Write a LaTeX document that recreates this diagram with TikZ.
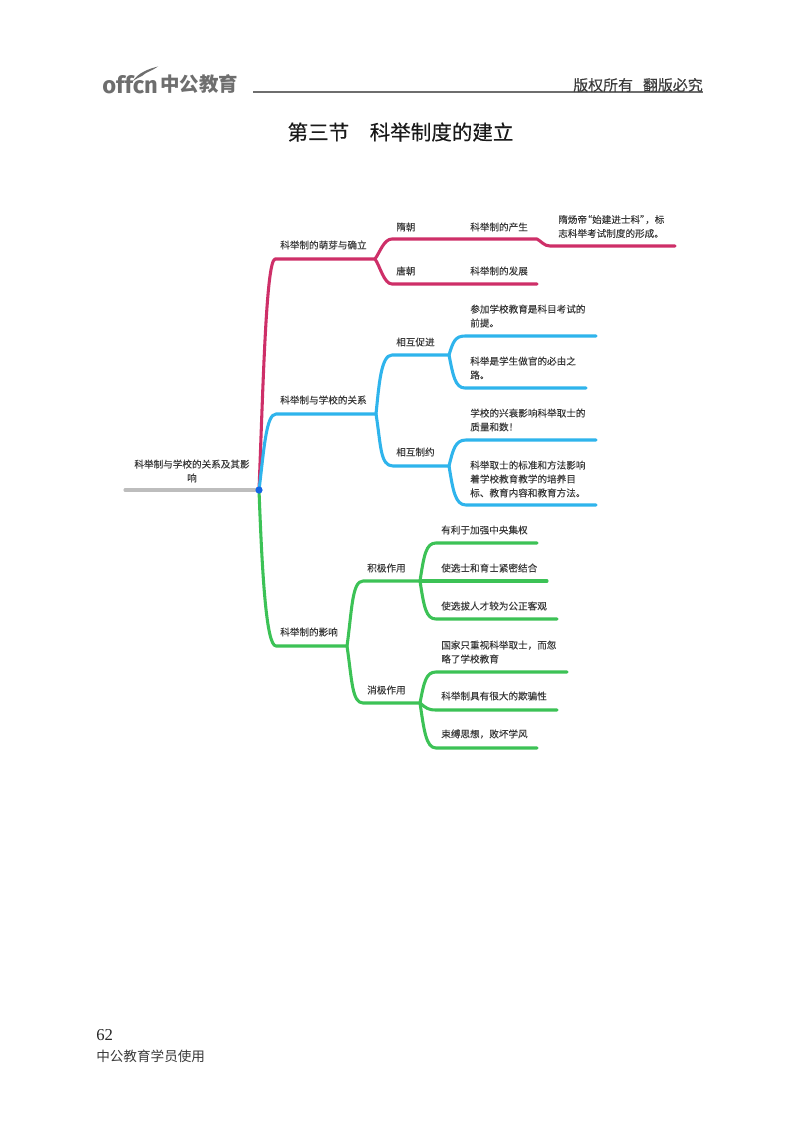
\documentclass[tikz,border=0pt]{standalone}
\usepackage{fontspec}
\setmainfont{Liberation Serif}
\newfontfamily\cjk{Noto Sans CJK SC}
\newfontfamily\cjkm[FakeBold=0.05]{Noto Sans CJK SC}
\newfontfamily\cjkh[FakeBold=0.25]{Noto Sans CJK SC}
\newfontfamily\logofont{Fira Sans}
\definecolor{txt}{HTML}{3A3A3A}
\definecolor{crim}{HTML}{CE2F68}
\definecolor{sky}{HTML}{2FB4EC}
\definecolor{grn}{HTML}{3CC256}
\definecolor{rootg}{HTML}{BDBDBD}
\definecolor{dotb}{HTML}{1565E6}
\definecolor{hdr}{HTML}{6E6E6E}
\tikzset{
  lab/.style={anchor=west,inner sep=0pt,align=left,text=txt,font=\cjkm\fontsize{7.2}{10.4}\selectfont},
  branch/.style={line width=2.3pt,line cap=round,line join=round},
  redb/.style={branch,draw=crim},
  blueb/.style={branch,draw=sky},
  greenb/.style={branch,draw=grn},
}
\begin{document}
\begin{tikzpicture}[x=0.75pt,y=-0.75pt]
\useasboundingbox (0,0) rectangle (800,1124);
\fill[white] (0,0) rectangle (800,1124);

% header
\node[anchor=west,inner sep=0pt,text=hdr,font=\logofont\bfseries\fontsize{17.8}{20}\selectfont] (logo) at (102,85) {offcn};
\node[anchor=west,inner sep=0pt,text=hdr,font=\cjk\bfseries\fontsize{14.6}{16}\selectfont] (logocn) at (160,84) {中公教育};
\fill[hdr] (133,81) .. controls (138,73) and (148,69) .. (158,66.5) .. controls (152,71) and (146,72) .. (142,76) .. controls (139,77) and (136,79) .. (133,81) -- cycle;
\coordinate (hl) at (253,92);
\coordinate (hr) at (703,92);
\draw[hdr,line width=0.9pt] (hl) .. controls (300,92) and (650,92) .. (hr);
\node[anchor=east,inner sep=0pt,text=txt,font=\cjkm\fontsize{11.2}{13}\selectfont] (rights) at (703,85) {版权所有\hspace{7.5pt}翻版必究};
\node[anchor=center,inner sep=0pt,text=black!90,font=\cjkh\fontsize{15.4}{18}\selectfont] (title) at (400.5,132) {第三节\hspace{1em}科举制度的建立};

% coordinates
\coordinate (root) at (259,490);
\coordinate (rootL) at (125,490);
\coordinate (a) at (275,259);   \coordinate (aj) at (375,259);
\coordinate (a1) at (392,239);  \coordinate (a1e) at (537,239);
\coordinate (a1x) at (550,246); \coordinate (a1xe) at (675,246);
\coordinate (a2) at (392,284);  \coordinate (a2e) at (537,284);
\coordinate (b) at (276,414);   \coordinate (bj) at (376,414);
\coordinate (b1) at (392,355);  \coordinate (b1j) at (449,355);
\coordinate (b11) at (465,336); \coordinate (b11e) at (596,336);
\coordinate (b12) at (465,388); \coordinate (b12e) at (586,388);
\coordinate (b2) at (393,466);  \coordinate (b2j) at (449,466);
\coordinate (b21) at (466,440); \coordinate (b21e) at (596,440);
\coordinate (b22) at (466,505); \coordinate (b22e) at (596,505);
\coordinate (c) at (276,646);   \coordinate (cj) at (347,646);
\coordinate (c1) at (363,581);  \coordinate (c1j) at (420,581);
\coordinate (c11) at (436,543); \coordinate (c11e) at (537,543);
\coordinate (c12e) at (547,581);
\coordinate (c13) at (436,619); \coordinate (c13e) at (557,619);
\coordinate (c2) at (363,703);  \coordinate (c2j) at (420,703);
\coordinate (c21) at (436,672); \coordinate (c21e) at (567,672);
\coordinate (c22) at (436,710); \coordinate (c22e) at (557,710);
\coordinate (c23) at (436,748); \coordinate (c23e) at (537,748);

% root bar
\draw[branch,draw=rootg] (rootL) .. controls (170,490) and (215,490) .. (root);

% red
\draw[redb] (root) .. controls (263,390) and (266,261) .. (a) -- (aj);
\draw[redb] (aj) .. controls (380,252) and (384,239) .. (a1) -- (a1e) .. controls (541,241) and (544,246) .. (a1x) -- (a1xe);
\draw[redb] (aj) .. controls (380,266) and (384,284) .. (a2) -- (a2e);

% green
\draw[greenb] (root) .. controls (262,570) and (266,646) .. (c) -- (cj);
\draw[greenb] (cj) .. controls (352,610) and (352,581) .. (c1) -- (c1j);
\draw[greenb] (cj) .. controls (352,680) and (352,703) .. (c2) -- (c2j);
\draw[greenb] (c1j) .. controls (424,555) and (426,543) .. (c11) -- (c11e);
\draw[greenb] (c1j) .. controls (450,581) and (500,581) .. (c12e);
\draw[greenb] (c1j) .. controls (424,607) and (426,619) .. (c13) -- (c13e);
\draw[greenb] (c2j) .. controls (424,682) and (426,672) .. (c21) -- (c21e);
\draw[greenb] (c2j) .. controls (426,708) and (428,710) .. (c22) -- (c22e);
\draw[greenb] (c2j) .. controls (424,730) and (426,748) .. (c23) -- (c23e);

% blue
\draw[blueb] (root) .. controls (264,450) and (266,414) .. (b) -- (bj);
\draw[blueb] (bj) .. controls (379,385) and (381,355) .. (b1) -- (b1j);
\draw[blueb] (bj) .. controls (381,445) and (380,466) .. (b2) -- (b2j);
\draw[blueb] (b1j) .. controls (453,342) and (455,336) .. (b11) -- (b11e);
\draw[blueb] (b1j) .. controls (453,375) and (455,388) .. (b12) -- (b12e);
\draw[blueb] (b2j) .. controls (453,450) and (455,440) .. (b21) -- (b21e);
\draw[blueb] (b2j) .. controls (453,490) and (455,505) .. (b22) -- (b22e);

\fill[dotb] (root) circle (3.6);

% labels
\node[lab,anchor=center,align=center] (t0) at (192,471) {科举制与学校的关系及其影\\响};
\node[lab] (ta) at (280,245) {科举制的萌芽与确立};
\node[lab] (ta1) at (396,227) {隋朝};
\node[lab] (ta11) at (470,227) {科举制的产生};
\node[lab] (ta111) at (558,226.5) {隋炀帝\hspace{-3.4pt}“始建进士科”\hspace{-3.4pt}，标\\志科举考试制度的形成。};
\node[lab] (ta2) at (396,271) {唐朝};
\node[lab] (ta21) at (470,271) {科举制的发展};
\node[lab] (tb) at (280,400) {科举制与学校的关系};
\node[lab] (tb1) at (396,342) {相互促进};
\node[lab] (tb11) at (470,316) {参加学校教育是科目考试的\\前提。};
\node[lab] (tb12) at (470,368) {科举是学生做官的必由之\\路。};
\node[lab] (tb2) at (396,452) {相互制约};
\node[lab] (tb21) at (470,420) {学校的兴衰影响科举取士的\\质量和数！};
\node[lab] (tb22) at (470,479) {科举取士的标准和方法影响\\着学校教育教学的培养目\\标、教育内容和教育方法。};
\node[lab] (tc) at (280,632) {科举制的影响};
\node[lab] (tc1) at (367,568) {积极作用};
\node[lab] (tc11) at (441,530) {有利于加强中央集权};
\node[lab] (tc12) at (441,568) {使选士和育士紧密结合};
\node[lab] (tc13) at (441,606) {使选拔人才较为公正客观};
\node[lab] (tc2) at (367,690) {消极作用};
\node[lab] (tc21) at (441,652) {国家只重视科举取士，而忽\\略了学校教育};
\node[lab] (tc22) at (441,696) {科举制具有很大的欺骗性};
\node[lab] (tc23) at (441,734) {束缚思想，败坏学风};

% footer
\node[anchor=west,inner sep=0pt,text=black!85,font=\fontsize{12.5}{14}\selectfont] (page) at (96,1035) {62};
\node[anchor=west,inner sep=0pt,text=txt,font=\cjk\fontsize{10.2}{12}\selectfont] (foot) at (96,1056) {中公教育学员使用};
\end{tikzpicture}
\end{document}
